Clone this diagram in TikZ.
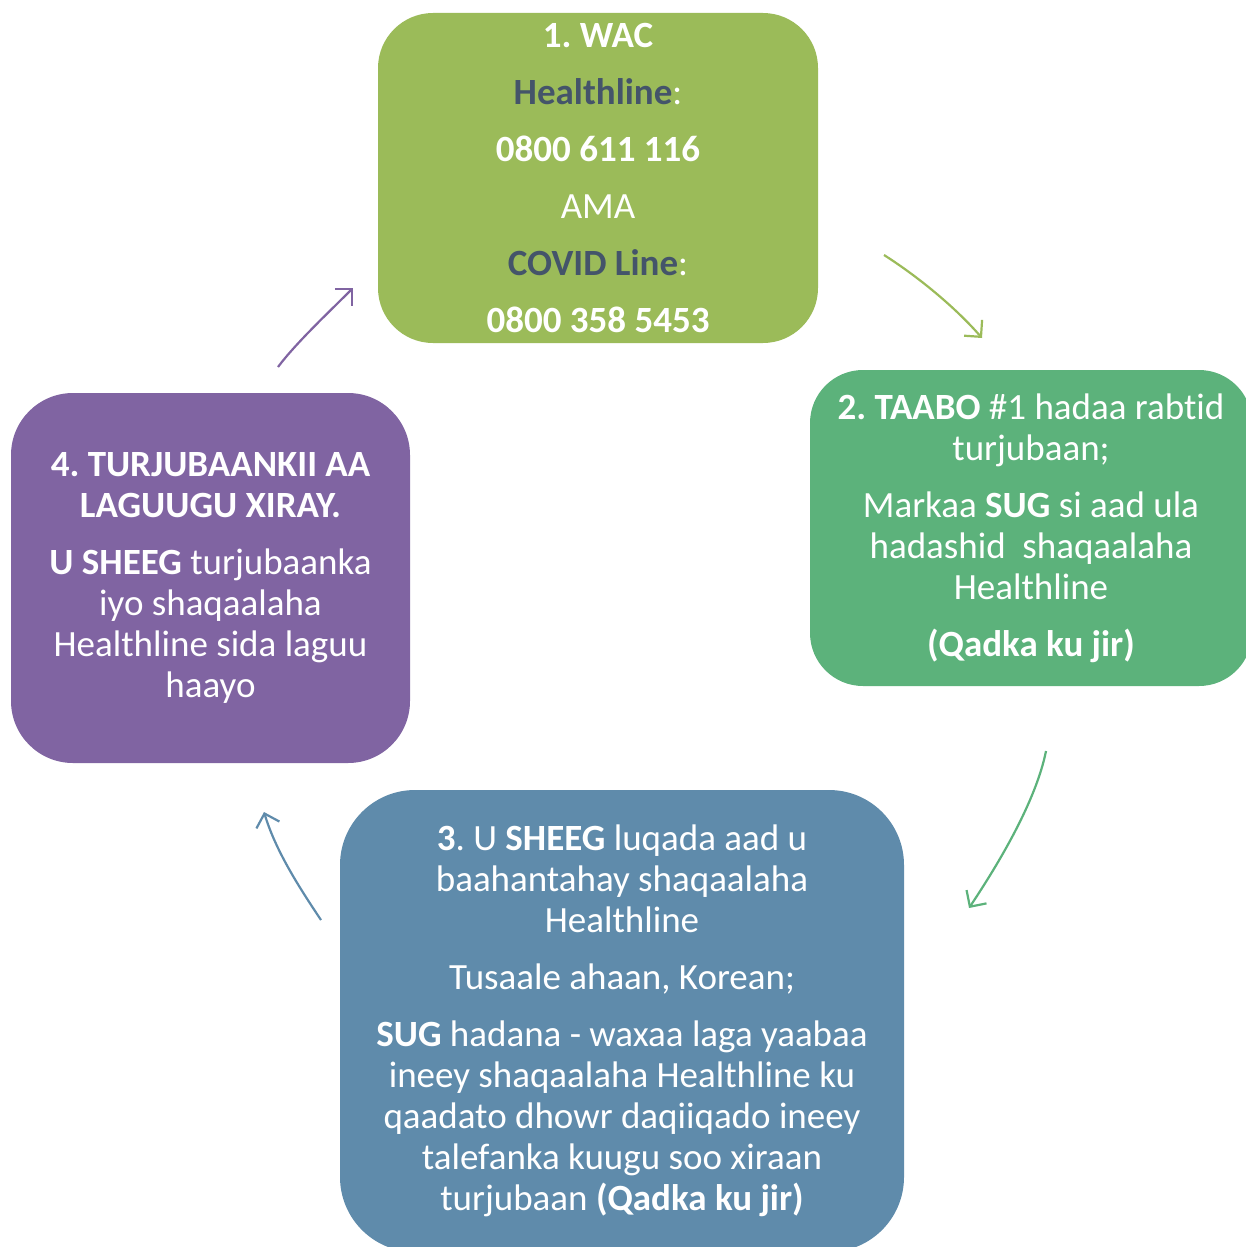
\documentclass[tikz,border=0pt]{standalone}
\usepackage{fontspec}
\setmainfont[Ligatures={NoCommon}]{Carlito}
\usetikzlibrary{arrows.meta}
\definecolor{cOlive}{HTML}{9BBB59}
\definecolor{cGreen}{HTML}{5CB27B}
\definecolor{cBlue}{HTML}{5F8BAB}
\definecolor{cPurple}{HTML}{8064A2}
\definecolor{cDark}{HTML}{44546A}
\tikzset{
  box/.style={rectangle, draw=none, text=white, align=center, inner sep=0pt,
    font=\fontsize{37}{41}\selectfont\frenchspacing},
  cyc/.style={line width=2.2pt, -{Straight Barb[length=12pt,width=24pt,line width=2.2pt]}},
}
\begin{document}
\begin{tikzpicture}[x=1pt,y=-1pt]
\useasboundingbox (0,0) rectangle (1245,1247);
% boxes
\node[box, fill=cOlive, rounded corners=55pt, minimum width=440pt, minimum height=330pt] (b1) at (598,178)
 {\textbf{1. WAC}\\[16pt]
  \textcolor{cDark}{\textbf{Healthline}}:\\[16pt]
  \textbf{0800 611 116}\\[16pt]
  AMA\\[16pt]
  \textcolor{cDark}{\textbf{COVID Line}}:\\[16pt]
  \textbf{0800 358 5453}};
\node[box, fill=cGreen, rounded corners=53pt, minimum width=442pt, minimum height=316pt] (b2) at (1031,528)
 {\textbf{2. TAABO} \#1 hadaa rabtid\\
  turjubaan;\\[16pt]
  Markaa \textbf{SUG} si aad ula\\
  hadashid\ \ shaqaalaha\\
  Healthline\\[16pt]
  \textbf{(Qadka ku jir)}};
\node[box, fill=cBlue, rounded corners=75pt, minimum width=564pt, minimum height=462pt] (b3) at (622,1021)
 {\textbf{3}. U \textbf{SHEEG} luqada aad u\\
  baahantahay shaqaalaha\\
  Healthline\\[16pt]
  Tusaale ahaan, Korean;\\[16pt]
  \textbf{SUG} hadana - waxaa laga yaabaa\\
  ineey shaqaalaha Healthline ku\\
  qaadato dhowr daqiiqado ineey\\
  talefanka kuugu soo xiraan\\
  turjubaan \textbf{(Qadka ku jir)}};
\node[box, fill=cPurple, rounded corners=62pt, minimum width=399pt, minimum height=370pt] (b4) at (210.5,578)
 {\textbf{4. TURJUBAANKII AA}\\
  \textbf{LAGUUGU XIRAY.}\\[16pt]
  \textbf{U SHEEG} turjubaanka\\
  iyo shaqaalaha\\
  Healthline sida laguu\\
  haayo};
% arrow end points
\coordinate (a1s) at (884,255);
\coordinate (a1e) at (982,338);
\coordinate (a2s) at (1046,751);
\coordinate (a2e) at (969,908);
\coordinate (a3s) at (321,920);
\coordinate (a3e) at (264,812);
\coordinate (a4s) at (278,367);
\coordinate (a4e) at (353,288);
\draw[cyc, cOlive] (a1s) .. controls (917,276) and (954,306) .. (a1e);
\draw[cyc, cGreen] (a2s) .. controls (1036,801) and (999,863) .. (a2e);
\draw[cyc, cBlue] (a3s) .. controls (301,890) and (276,852) .. (a3e);
\draw[cyc, cPurple] (a4s) .. controls (296,343) and (328,313) .. (a4e);
\end{tikzpicture}
\end{document}
